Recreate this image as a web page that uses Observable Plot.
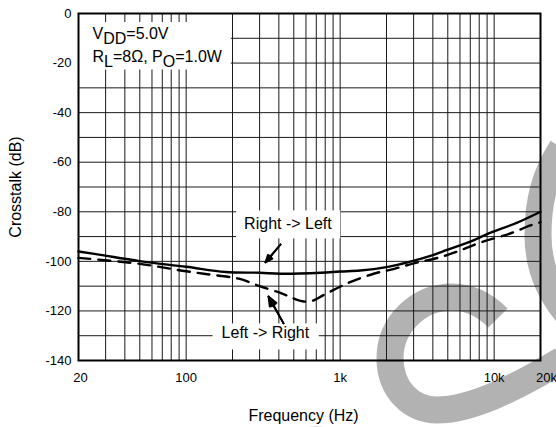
<!DOCTYPE html>
<html>
<head>
<meta charset="utf-8">
<script src="https://cdn.jsdelivr.net/npm/d3@7"></script>
<script src="https://cdn.jsdelivr.net/npm/@observablehq/plot@0.6"></script>
<style>
  body { margin: 0; background: #fff; }
</style>
</head>
<body>
<div id="chart"></div>
<script>
// Crosstalk vs. frequency, VDD = 5.0 V, RL = 8 Ω, PO = 1.0 W

// Right -> Left channel (solid)
const freqRightToLeft = [20, 27.8, 50, 100, 180, 300, 410, 750, 1000, 1350, 2000, 2900, 4000, 5000, 7000, 9000, 10000, 14000, 20000];
const dbRightToLeft   = [-96, -97.4, -99.9, -102.2, -104.3, -104.6, -105, -104.6, -104.1, -103.7, -102.3, -100, -97.5, -95.3, -92, -89, -87.9, -84.5, -80];

// Left -> Right channel (dashed)
const freqLeftToRight = [20, 50, 100, 150, 220, 300, 420, 500, 580, 670, 780, 1130, 1650, 2250, 3100, 4300, 5900, 8300, 12400, 17200, 20000];
const dbLeftToRight   = [-98.6, -101, -104, -105.5, -107, -110, -113, -115, -116.2, -115.8, -113.6, -108.7, -105, -103, -100.6, -98.6, -95.8, -92.2, -89, -85.5, -84.2];

// Axes
const xTicks = [20, 100, 1000, 10000, 20000];
const xTickLabels = ["20", "100", "1k", "10k", "20k"];
const yTicks = [0, -20, -40, -60, -80, -100, -120, -140];
const xGrid = [20, 30, 40, 50, 60, 70, 80, 90, 100, 200, 300, 400, 500, 600, 700, 800, 900,
               1000, 2000, 3000, 4000, 5000, 6000, 7000, 8000, 9000, 10000, 20000];
const yGrid = [0, -10, -20, -30, -40, -50, -60, -70, -80, -90, -100, -110, -120, -130, -140];

const rightToLeft = freqRightToLeft.map((f, i) => ({f, db: dbRightToLeft[i]}));
const leftToRight = freqLeftToRight.map((f, i) => ({f, db: dbLeftToRight[i]}));

const font = "'Liberation Sans', Arial, Helvetica, sans-serif";

const callouts = [
  {text: "Right -> Left", f: 458, db: -87.1},
  {text: "Left -> Right", f: 327, db: -131.1}
];
const pointers = [
  {f1: 410, db1: -93.2, f2: 327.6, db2: -100.4},
  {f1: 429, db1: -125.0, f2: 342.6, db2: -114.2}
];

const arrow = angle => Plot.arrow(pointers, {
  x1: "f1", y1: "db1", x2: "f2", y2: "db2",
  stroke: "#000", strokeWidth: 1.8, headLength: 9, headAngle: angle
});

const chart = Plot.plot({
  width: 556,
  height: 427,
  marginLeft: 78,
  marginRight: 16,
  marginTop: 13,
  marginBottom: 67,
  style: {fontFamily: font, fontSize: "13px", color: "#000", background: "#fff"},
  x: {
    type: "log", domain: [20, 20000], ticks: xTicks,
    tickFormat: f => xTickLabels[xTicks.indexOf(f)],
    tickSize: 0, tickPadding: 12, label: null
  },
  y: {
    domain: [-140, 0], ticks: yTicks, tickFormat: d => String(d),
    tickSize: 0, tickPadding: 7, label: null
  },
  marks: [
    Plot.ruleX(xGrid, {stroke: "#1a1a1a", strokeWidth: 1}),
    Plot.ruleY(yGrid, {stroke: "#1a1a1a", strokeWidth: 1}),
    Plot.text(["VDD=5.0V"], {text: d => d, frameAnchor: "top-left", dx: 14, dy: 25.5,
      textAnchor: "start", lineAnchor: "bottom", fontSize: 16, fill: "#000"}),
    Plot.text(["RL=8Ω, PO=1.0W"], {text: d => d, frameAnchor: "top-left", dx: 14, dy: 48,
      textAnchor: "start", lineAnchor: "bottom", fontSize: 16, fill: "#000"}),
    Plot.text(callouts, {x: "f", y: "db", text: "text", textAnchor: "middle",
      lineAnchor: "bottom", fontSize: 16, fill: "#000"}),
    arrow(45), arrow(30), arrow(15),
    Plot.line(rightToLeft, {x: "f", y: "db", stroke: "#000", strokeWidth: 2.4, curve: "catmull-rom"}),
    Plot.line(leftToRight, {x: "f", y: "db", stroke: "#000", strokeWidth: 2.4,
      strokeDasharray: "12,8", curve: "catmull-rom"}),
    Plot.frame({stroke: "#000", strokeWidth: 2}),
    Plot.text(["Crosstalk (dB)"], {text: d => d, frameAnchor: "left", dx: -63, rotate: -90,
      textAnchor: "middle", lineAnchor: "middle", fontSize: 16, fill: "#000"}),
    Plot.text(["Frequency (Hz)"], {text: d => d, frameAnchor: "bottom", dx: -6, dy: 60,
      textAnchor: "middle", lineAnchor: "bottom", fontSize: 16, fill: "#000"})
  ]
});

document.getElementById("chart").appendChild(chart);

const svg = d3.select(chart);

// Grey logo stroke in the background
const logo = svg.insert("g", "g").attr("fill", "none").attr("stroke", "#b2b2b2")
  .attr("stroke-width", 27).attr("stroke-linecap", "butt");
logo.append("path").attr("d", "M 498 318 C 484 304 470 297 452 297 C 418 297 390 325 390 358 C 390 390 412 410 437 410 C 470 410 512 390 562 360");
logo.append("path").attr("d", "M 562 148 C 545 175 538 200 538 235 C 538 265 548 290 566 312");
logo.append("path").attr("d", "M 272 484 A 44 44 0 0 1 360 484");

// Edge tick labels sit slightly inward/outward of their gridlines
svg.selectAll("text").each(function () {
  if (this.textContent === "20k") d3.select(this).attr("dx", 6);
  if (this.textContent === "20") d3.select(this).attr("dx", 2);
});

// Subscripts for the condition labels
const subscripts = {
  "VDD=5.0V": [["V", 0], ["DD", 1], ["=5.0V", 0]],
  "RL=8Ω, PO=1.0W": [["R", 0], ["L", 1], ["=8Ω, P", 0], ["O", 1], ["=1.0W", 0]]
};
svg.selectAll("text").each(function () {
  const parts = subscripts[this.textContent];
  if (!parts) return;
  const t = d3.select(this).text(null);
  let shifted = false;
  for (const [s, sub] of parts) {
    const span = t.append("tspan").text(s);
    if (sub && !shifted) { span.attr("dy", 5); shifted = true; }
    else if (!sub && shifted) { span.attr("dy", -5); shifted = false; }
  }
});

// White label backgrounds sized from the rendered text
const origin = chart.getBoundingClientRect();
function box(texts, pad, extendLeftTo) {
  const rects = texts.map(t => t.getBoundingClientRect());
  let x0 = d3.min(rects, r => r.left) - origin.left - pad[3];
  const x1 = d3.max(rects, r => r.right) - origin.left + pad[1];
  const y0 = d3.min(rects, r => r.top) - origin.top - pad[0];
  const y1 = d3.max(rects, r => r.bottom) - origin.top + pad[2];
  if (extendLeftTo != null) x0 = extendLeftTo;
  const g = texts[0].parentNode;
  const rect = document.createElementNS("http://www.w3.org/2000/svg", "rect");
  rect.setAttribute("x", x0); rect.setAttribute("y", y0);
  rect.setAttribute("width", x1 - x0); rect.setAttribute("height", y1 - y0);
  rect.setAttribute("fill", "#fff");
  g.parentNode.insertBefore(rect, g);
}
const allText = svg.selectAll("text").nodes();
const find = s => allText.find(t => t.textContent === s);
box([find("VDD=5.0V"), find("RL=8Ω, PO=1.0W")], [3, 8, 0, 0], 79);
box([find("Right -> Left")], [5, 8, 6, 8]);
box([find("Left -> Right")], [1, 9, 8, 9]);
</script>
</body>
</html>
